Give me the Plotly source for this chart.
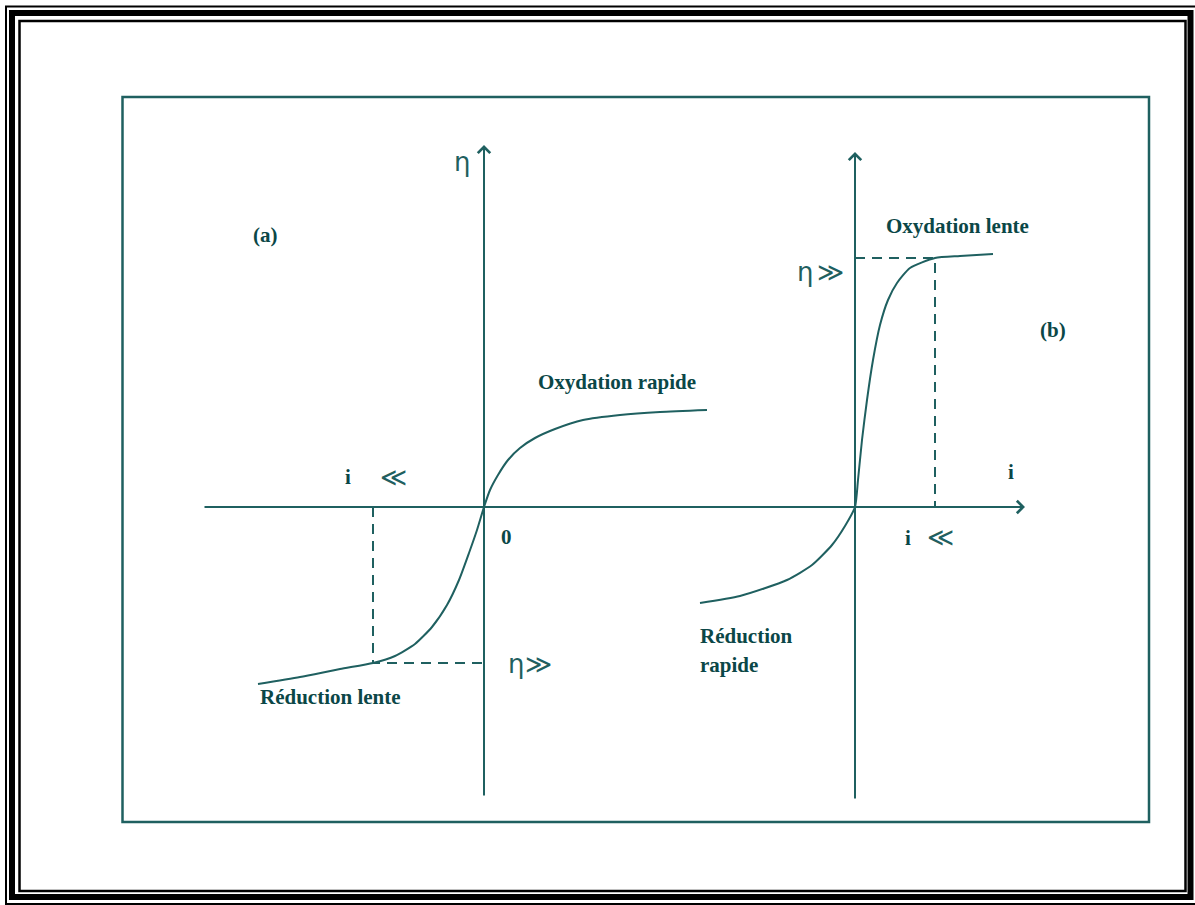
import plotly.graph_objects as go

# Canvas size in pixels
W, H = 1195, 905

# ---- Panel (a): fast oxidation / slow reduction, current i vs overpotential eta ----
a_i = [-2.26, -1.84, -1.44, -1.11, -0.89, -0.69, -0.52, -0.37, -0.25, -0.15, -0.07, 0.0,
       0.06, 0.14, 0.24, 0.36, 0.51, 0.71, 0.99, 1.36, 1.76, 2.23]
a_eta = [-1.77, -1.70, -1.62, -1.56, -1.49, -1.37, -1.20, -0.98, -0.73, -0.46, -0.23, 0.0,
         0.17, 0.32, 0.47, 0.59, 0.69, 0.78, 0.87, 0.92, 0.95, 0.97]
# point marked by the dashed guides on the reduction branch
a_mark_i, a_mark_eta = -1.11, -1.56

# ---- Panel (b): slow oxidation / fast reduction ----
b_i = [-1.55, -1.15, -0.68, -0.43, -0.23, -0.10, 0.0, 0.03, 0.07, 0.12,
       0.18, 0.25, 0.33, 0.42, 0.55, 0.80, 1.05, 1.38]
b_eta = [-0.96, -0.89, -0.73, -0.58, -0.38, -0.19, 0.0, 0.27, 0.67, 1.07,
         1.47, 1.82, 2.07, 2.24, 2.39, 2.49, 2.51, 2.53]
b_mark_i, b_mark_eta = 0.80, 2.49

# axis extents (data units of each panel)
a_eta_axis = [-2.90, 3.62]
i_axis = [-2.81, 5.41]          # shared horizontal i axis, drawn in panel (a) units
b_eta_axis = [-2.93, 3.55]

# text labels: (text, i, eta, panel)
labels_bold = [
    ("(a)", -2.19, 2.72, "a"),
    ("Oxydation rapide", 1.33, 1.25, "a"),
    ("i", -1.36, 0.30, "a"),
    ("0", 0.22, -0.30, "a"),
    ("Réduction lente", -1.54, -1.90, "a"),
    ("Oxydation lente", 1.02, 2.81, "b"),
    ("(b)", 1.98, 1.77, "b"),
    ("i", 1.56, 0.35, "b"),
    ("i", 0.53, -0.31, "b"),
]
labels_sym = [
    ("η", -0.22, 3.45, "a"),
    ("≪", -0.91, 0.30, "a"),
    ("η", 0.32, -1.57, "a"),
    ("≫", 0.54, -1.57, "a"),
    ("η", -0.50, 2.35, "b"),
    ("≫", -0.25, 2.35, "b"),
    ("≪", 0.85, -0.30, "b"),
]
labels_left = [
    ("Réduction", -1.57, -1.29, "b"),
    ("rapide", -1.57, -1.58, "b"),
]

LINE = "#1f6060"
TEXT = "#0b4747"
BLACK = "#000000"

# pixel origin of each panel and pixels per unit
SCALE = 100.0
ORIG_A = (484, 507)
ORIG_B = (855, 507)


def xr(orig):
    return [(0 - orig[0]) / SCALE, (W - orig[0]) / SCALE]


def yr(orig):
    return [(orig[1] - H) / SCALE, orig[1] / SCALE]


fig = go.Figure()

line_style = dict(color=LINE, width=2)
dash_style = dict(color=LINE, width=2, dash="10px,7px")

# curves
fig.add_trace(go.Scatter(x=a_i, y=a_eta, mode="lines", line=dict(**line_style, shape="spline", smoothing=0.6),
                         xaxis="x", yaxis="y", hoverinfo="skip"))
fig.add_trace(go.Scatter(x=b_i, y=b_eta, mode="lines", line=dict(**line_style, shape="spline", smoothing=0.6),
                         xaxis="x2", yaxis="y2", hoverinfo="skip"))

# dashed guides
fig.add_trace(go.Scatter(x=[a_mark_i, a_mark_i, 0], y=[0, a_mark_eta, a_mark_eta], mode="lines",
                         line=dash_style, xaxis="x", yaxis="y", hoverinfo="skip"))
fig.add_trace(go.Scatter(x=[0, b_mark_i, b_mark_i], y=[b_mark_eta, b_mark_eta, 0], mode="lines",
                         line=dash_style, xaxis="x2", yaxis="y2", hoverinfo="skip"))

annotations = []


def arrow(x0, y0, x1, y1, xa, ya):
    return dict(x=x1, y=y1, ax=x0, ay=y0, xref=xa, yref=ya, axref=xa, ayref=ya,
                text="", showarrow=True, arrowhead=4, arrowsize=1.2, arrowwidth=2,
                arrowcolor=LINE, standoff=0)


# coordinate axes with arrowheads
annotations.append(arrow(0, a_eta_axis[0], 0, a_eta_axis[1], "x", "y"))
annotations.append(arrow(i_axis[0], 0, i_axis[1], 0, "x", "y"))
annotations.append(arrow(0, b_eta_axis[0], 0, b_eta_axis[1], "x2", "y2"))

refs = {"a": ("x", "y"), "b": ("x2", "y2")}
bold_font = dict(family="Liberation Serif", size=21, color=TEXT, weight="bold")
for txt, xv, yv, p in labels_bold:
    xa, ya = refs[p]
    annotations.append(dict(x=xv, y=yv, xref=xa, yref=ya, text=txt, showarrow=False, font=bold_font))
for txt, xv, yv, p in labels_sym:
    xa, ya = refs[p]
    annotations.append(dict(x=xv, y=yv, xref=xa, yref=ya, text=txt, showarrow=False,
                            font=dict(family="DejaVu Sans", size=26, color=LINE)))
for txt, xv, yv, p in labels_left:
    xa, ya = refs[p]
    annotations.append(dict(x=xv, y=yv, xref=xa, yref=ya, text=txt, showarrow=False, xanchor="left",
                            font=bold_font))


def prect(x0, y0, x1, y1, color, width):
    return dict(type="rect", xref="paper", yref="paper",
                x0=x0 / W, x1=x1 / W, y0=1 - y1 / H, y1=1 - y0 / H,
                line=dict(color=color, width=width), fillcolor="rgba(0,0,0,0)", layer="above")


shapes = [
    prect(6, 6.5, 1197, 904, BLACK, 2),
    prect(12, 13, 1190.5, 897, BLACK, 6),
    prect(19.5, 21, 1185.5, 891, BLACK, 2.5),
    prect(122.5, 97, 1149, 822, LINE, 2.5),
]

axis_off = dict(visible=False, showgrid=False, zeroline=False, fixedrange=True)
fig.update_layout(
    width=W, height=H, autosize=False,
    margin=dict(l=0, r=0, t=0, b=0, pad=0),
    paper_bgcolor="white", plot_bgcolor="white",
    showlegend=False,
    xaxis=dict(range=xr(ORIG_A), domain=[0, 1], **axis_off),
    yaxis=dict(range=yr(ORIG_A), domain=[0, 1], **axis_off),
    xaxis2=dict(range=xr(ORIG_B), domain=[0, 1], overlaying="x", **axis_off),
    yaxis2=dict(range=yr(ORIG_B), domain=[0, 1], overlaying="y", anchor="x2", **axis_off),
    annotations=annotations,
    shapes=shapes,
)

fig.write_html("out.html")
